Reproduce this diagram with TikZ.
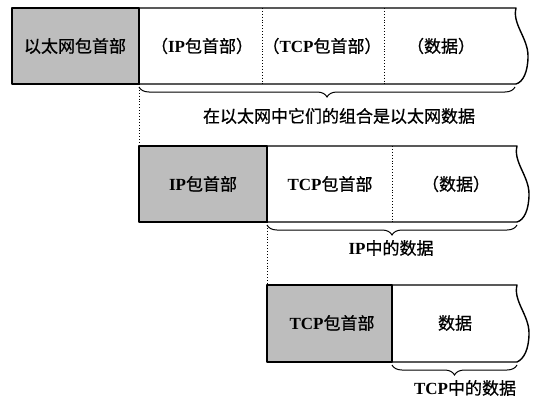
\documentclass[tikz,border=0pt]{standalone}
\usepackage{fontspec}
\setmainfont{Liberation Serif}
\newfontfamily\cjk[FakeBold=0.8]{Noto Sans CJK SC}
\usepackage{tikz}
\usetikzlibrary{decorations.pathreplacing}

\begin{document}
\begin{tikzpicture}[x=1pt, y=-1pt,
  box/.style={line width=1.4pt, line join=round},
  hdrfill/.style={fill=black!26},
  sep/.style={dotted, line width=0.9pt},
  brc/.style={decorate, decoration={brace, mirror, amplitude=10pt}, line width=1pt},
  txt/.style={font=\fontsize{17}{20}\selectfont, inner sep=0pt}]
\useasboundingbox (0,0) rectangle (537,404);
% \draw (0,0) grid (537,404);
% row 1: ethernet frame
\fill[hdrfill] (12,8) rectangle (139,84);
\draw[box] (12,8) rectangle (139,84);
\draw[box] (139,8) -- (516,8) .. controls (512,24) and (528,38) .. (528,56) .. controls (528,72) and (523,82) .. (516,84) -- (139,84);
\draw[sep] (262,8) -- (262,84);
\draw[sep] (384,8) -- (384,84);
\node[txt] (eth) at (75,46) {\cjk 以太网包首部};
\node[txt] (ipA) at (202,46) {{\cjk （}\textbf{IP}{\cjk 包首部）}};
\node[txt] (tcpA) at (322,46) {{\cjk （}\textbf{TCP}{\cjk 包首部）}};
\node[txt] (dataA) at (441,46) {\cjk （数据）};
\draw[brc] (139,87) -- (515,87);
\node[txt] (ethdata) at (339,116) {\cjk 在以太网中它们的组合是以太网数据};
\draw[sep] (139,84) -- (139,146);
% row 2: IP packet
\fill[hdrfill] (139,146) rectangle (267,222);
\draw[box] (139,146) rectangle (267,222);
\draw[box] (267,146) -- (517,146) .. controls (513,162) and (529,176) .. (529,194) .. controls (529,210) and (524,220) .. (517,222) -- (267,222);
\draw[sep] (392,146) -- (392,222);
\node[txt] (ipB) at (203,184) {\textbf{IP}{\cjk 包首部}};
\node[txt] (tcpB) at (330,184) {\textbf{TCP}{\cjk 包首部}};
\node[txt] (dataB) at (456,184) {\cjk （数据）};
\draw[brc] (267,225) -- (517,225);
\node[txt] (ipdata) at (391,248) {\textbf{IP}{\cjk 中的数据}};
\draw[sep] (267,222) -- (267,285);
% row 3: TCP segment
\fill[hdrfill] (267,285) rectangle (392,362);
\draw[box] (267,285) rectangle (392,362);
\draw[box] (392,285) -- (517,285) .. controls (513,301) and (529,315) .. (529,333) .. controls (529,349) and (524,359) .. (517,362) -- (392,362);
\node[txt] (tcpC) at (332,323) {\textbf{TCP}{\cjk 包首部}};
\node[txt] (dataC) at (455,323) {\cjk 数据};
\draw[brc] (392,365) -- (517,365);
\node[txt] (tcpdata) at (465,388) {\textbf{TCP}{\cjk 中的数据}};
\end{tikzpicture}
\end{document}
